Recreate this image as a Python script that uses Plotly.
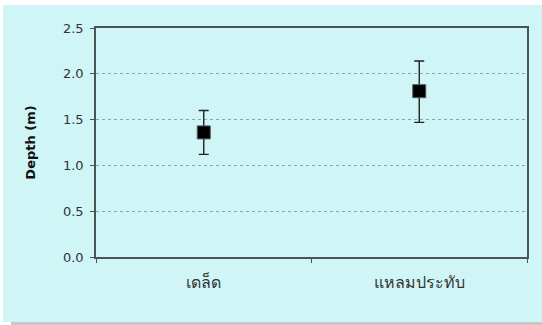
import plotly.graph_objects as go

# Mean depth per site with error range
sites = ["เดล็ด", "แหลมประทับ"]
depth_mean = [1.36, 1.81]
depth_upper = [1.60, 2.14]
depth_lower = [1.12, 1.47]

y_ticks = [0.0, 0.5, 1.0, 1.5, 2.0, 2.5]
y_tick_text = ["0.0", "0.5", "1.0", "1.5", "2.0", "2.5"]

err_plus = [u - m for u, m in zip(depth_upper, depth_mean)]
err_minus = [m - l for m, l in zip(depth_mean, depth_lower)]

BG = "#D0F5F6"
AXIS = "#4a5454"
FONT = "DejaVu Sans, Arial, sans-serif"

fig = go.Figure()
fig.add_trace(go.Scatter(
    x=sites,
    y=depth_mean,
    mode="markers",
    marker=dict(symbol="square", size=13, color="black",
                line=dict(color="#555555", width=1)),
    error_y=dict(type="data", symmetric=False, array=err_plus,
                 arrayminus=err_minus, color="#222222", thickness=1.4,
                 width=5),
    showlegend=False,
))

W, H = 542, 325
L, R, T, B = 96, 15, 28, 68
pw, ph = W - L - R, H - T - B


def px_x(p):
    return (p - L) / pw


def px_y(p):
    return (H - B - p) / ph


fig.update_layout(
    width=W, height=H,
    margin=dict(l=L, r=R, t=T, b=B),
    paper_bgcolor="white",
    plot_bgcolor="rgba(0,0,0,0)",
    font=dict(family=FONT, size=13, color="#333333"),
    shapes=[
        # drop shadow strip under the panel
        dict(type="rect", xref="paper", yref="paper", layer="below",
             x0=px_x(11), x1=px_x(542), y0=px_y(325), y1=px_y(322),
             fillcolor="#c8c8c8", line=dict(width=0)),
        # light cyan chart panel
        dict(type="rect", xref="paper", yref="paper", layer="below",
             x0=px_x(3), x1=px_x(542), y0=px_y(322), y1=px_y(5),
             fillcolor=BG, line=dict(width=0)),
    ],
    xaxis=dict(
        type="category",
        range=[-0.5, 1.5],
        tickson="boundaries",
        showgrid=False,
        showline=True, linecolor=AXIS, linewidth=1.5, mirror=True,
        ticks="outside", ticklen=4, tickcolor=AXIS,
        ticklabelstandoff=10,
        tickfont=dict(size=16, color="#333333"),
        zeroline=False,
    ),
    yaxis=dict(
        range=[0, 2.5],
        tickvals=y_ticks, ticktext=y_tick_text,
        showgrid=True, gridcolor="#95a5a5", griddash="dot", gridwidth=1,
        showline=True, linecolor=AXIS, linewidth=1.5, mirror=True,
        ticks="outside", ticklen=4, tickcolor=AXIS,
        ticklabelstandoff=4,
        tickfont=dict(size=13, color="#333333"),
        zeroline=False,
        title=dict(text="<b>Depth (m)</b>", standoff=24,
                   font=dict(size=13, color="#111111")),
    ),
)

fig.write_html("out.html")
